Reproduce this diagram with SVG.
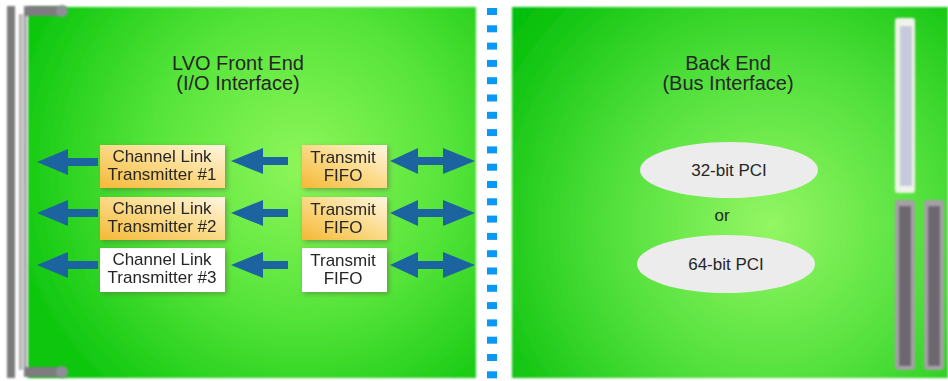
<svg xmlns="http://www.w3.org/2000/svg" width="948" height="381" viewBox="0 0 948 381">
  <defs>
    <radialGradient id="gLeft" cx="300" cy="165" r="300" gradientUnits="userSpaceOnUse">
      <stop offset="0" stop-color="#8ef65a"/>
      <stop offset="0.5" stop-color="#56e43a"/>
      <stop offset="1" stop-color="#0cc60e"/>
    </radialGradient>
    <radialGradient id="gRight" cx="770" cy="225" r="320" gradientUnits="userSpaceOnUse">
      <stop offset="0" stop-color="#94f664"/>
      <stop offset="0.5" stop-color="#52e03c"/>
      <stop offset="1" stop-color="#06c00a"/>
    </radialGradient>
    <linearGradient id="gBox" x1="0" y1="1" x2="1" y2="0">
      <stop offset="0" stop-color="#f4b936"/>
      <stop offset="0.55" stop-color="#fbdc8e"/>
      <stop offset="1" stop-color="#fff6e2"/>
    </linearGradient>
    <filter id="soft" x="-20%" y="-30%" width="140%" height="160%">
      <feGaussianBlur in="SourceAlpha" stdDeviation="2.5"/>
      <feOffset dx="2" dy="2" result="b"/>
      <feFlood flood-color="#5a6a40" flood-opacity="0.55"/>
      <feComposite in2="b" operator="in" result="s"/>
      <feMerge><feMergeNode in="s"/><feMergeNode in="SourceGraphic"/></feMerge>
    </filter>
    <filter id="edge" x="-5%" y="-5%" width="110%" height="110%">
      <feGaussianBlur stdDeviation="0.8"/>
    </filter>
    <style>
      .t { font-family: "Liberation Sans", Arial, sans-serif; fill: #262626; text-anchor: middle; }
      .title { font-size: 20px; }
      .lbl { font-size: 17px; }
      .pci { font-size: 17px; }
      .arr { fill: #1c64a0; }
      .dash { fill: #0a98f6; }
    </style>
  </defs>

  <rect width="948" height="381" fill="#ffffff"/>

  <!-- board panels -->
  <g id="front-end-panel">
    <rect x="28" y="7" width="448" height="371" fill="url(#gLeft)" filter="url(#edge)"/>
  </g>
  <g id="back-end-panel">
    <rect x="512" y="7" width="436" height="371" fill="url(#gRight)" filter="url(#edge)"/>
  </g>

  <!-- front bracket -->
  <g id="bracket" filter="url(#edge)">
    <rect x="7" y="6" width="8" height="372" fill="#7c7a7c"/>
    <rect x="19" y="14" width="8" height="356" fill="#a8a6a8"/>
    <rect x="21" y="14" width="3" height="356" fill="#e8e8e8" opacity="0.6"/>
    <rect x="24" y="6" width="38" height="10" fill="#7e7c80"/>
    <circle cx="62" cy="11" r="6" fill="#8e8e98"/>
    <rect x="24" y="367" width="38" height="10" fill="#7e7c80"/>
    <circle cx="62" cy="372" r="6" fill="#8e8e98"/>
  </g>

  <!-- bus connector slots -->
  <g id="slots" filter="url(#edge)">
    <rect x="895" y="18" width="20" height="175" rx="3" fill="#f0f4e8"/>
    <rect x="900" y="26" width="12" height="160" fill="#c6cadc"/>
    <rect x="895" y="200" width="20" height="170" rx="3" fill="#a4a0a6"/>
    <rect x="899" y="206" width="12" height="160" fill="#6c686e"/>
    <rect x="924" y="200" width="20" height="170" rx="3" fill="#a4a0a6"/>
    <rect x="928" y="206" width="12" height="160" fill="#6c686e"/>
  </g>

  <!-- divider -->
  <g id="divider">
    <rect class="dash" x="487" y="8" width="10" height="7"/>
    <rect class="dash" x="487" y="25.3" width="10" height="7"/>
    <rect class="dash" x="487" y="42.6" width="10" height="7"/>
    <rect class="dash" x="487" y="59.9" width="10" height="7"/>
    <rect class="dash" x="487" y="77.2" width="10" height="7"/>
    <rect class="dash" x="487" y="94.5" width="10" height="7"/>
    <rect class="dash" x="487" y="111.8" width="10" height="7"/>
    <rect class="dash" x="487" y="129.1" width="10" height="7"/>
    <rect class="dash" x="487" y="146.4" width="10" height="7"/>
    <rect class="dash" x="487" y="163.7" width="10" height="7"/>
    <rect class="dash" x="487" y="181" width="10" height="7"/>
    <rect class="dash" x="487" y="198.3" width="10" height="7"/>
    <rect class="dash" x="487" y="215.6" width="10" height="7"/>
    <rect class="dash" x="487" y="232.9" width="10" height="7"/>
    <rect class="dash" x="487" y="250.2" width="10" height="7"/>
    <rect class="dash" x="487" y="267.5" width="10" height="7"/>
    <rect class="dash" x="487" y="284.8" width="10" height="7"/>
    <rect class="dash" x="487" y="302.1" width="10" height="7"/>
    <rect class="dash" x="487" y="319.4" width="10" height="7"/>
    <rect class="dash" x="487" y="336.7" width="10" height="7"/>
    <rect class="dash" x="487" y="354" width="10" height="7"/>
    <rect class="dash" x="487" y="371.3" width="10" height="7"/>
  </g>

  <!-- titles -->
  <g id="front-title">
    <text class="t title" x="238" y="70">LVO Front End</text>
    <text class="t title" x="238" y="90">(I/O Interface)</text>
  </g>
  <g id="back-title">
    <text class="t title" x="728" y="70">Back End</text>
    <text class="t title" x="728" y="90">(Bus Interface)</text>
  </g>

  <!-- connectors -->
  <g id="connectors">
    <!-- output arrows -->
    <path class="arr" d="M37,162 L68,149 L68,158 L98,158 L98,166 L68,166 L68,175 Z"/>
    <path class="arr" d="M37,213 L68,200 L68,209 L98,209 L98,217 L68,217 L68,226 Z"/>
    <path class="arr" d="M37,265 L68,252 L68,261 L98,261 L98,269 L68,269 L68,278 Z"/>
    <!-- FIFO to transmitter arrows -->
    <path class="arr" d="M231,161 L263,148 L263,157 L288,157 L288,165 L263,165 L263,174 Z"/>
    <path class="arr" d="M231,213 L263,200 L263,209 L288,209 L288,217 L263,217 L263,226 Z"/>
    <path class="arr" d="M231,265 L263,252 L263,261 L288,261 L288,269 L263,269 L263,278 Z"/>
    <!-- bidirectional bus arrows -->
    <path class="arr" d="M390,161 L418,148 L418,157 L443,157 L443,148 L475,161 L443,174 L443,165 L418,165 L418,174 Z"/>
    <path class="arr" d="M390,213 L418,200 L418,209 L443,209 L443,200 L475,213 L443,226 L443,217 L418,217 L418,226 Z"/>
    <path class="arr" d="M390,265 L418,252 L418,261 L443,261 L443,252 L475,265 L443,278 L443,269 L418,269 L418,278 Z"/>
  </g>

  <!-- transmitter boxes -->
  <g id="tx1" filter="url(#soft)">
    <rect x="100" y="145" width="125" height="43" fill="url(#gBox)"/>
    <text class="t lbl" x="162" y="162">Channel Link</text>
    <text class="t lbl" x="162" y="180">Transmitter #1</text>
  </g>
  <g id="tx2" filter="url(#soft)">
    <rect x="100" y="197" width="125" height="43" fill="url(#gBox)"/>
    <text class="t lbl" x="162" y="214">Channel Link</text>
    <text class="t lbl" x="162" y="232">Transmitter #2</text>
  </g>
  <g id="tx3" filter="url(#soft)">
    <rect x="100" y="248" width="125" height="44" fill="#ffffff"/>
    <text class="t lbl" x="162" y="265">Channel Link</text>
    <text class="t lbl" x="162" y="283">Transmitter #3</text>
  </g>

  <!-- FIFO boxes -->
  <g id="fifo1" filter="url(#soft)">
    <rect x="302" y="145" width="85" height="43" fill="url(#gBox)"/>
    <text class="t lbl" x="343" y="163">Transmit</text>
    <text class="t lbl" x="343" y="181">FIFO</text>
  </g>
  <g id="fifo2" filter="url(#soft)">
    <rect x="302" y="197" width="85" height="43" fill="url(#gBox)"/>
    <text class="t lbl" x="343" y="215">Transmit</text>
    <text class="t lbl" x="343" y="233">FIFO</text>
  </g>
  <g id="fifo3" filter="url(#soft)">
    <rect x="302" y="248" width="85" height="44" fill="#ffffff"/>
    <text class="t lbl" x="343" y="266">Transmit</text>
    <text class="t lbl" x="343" y="284">FIFO</text>
  </g>

  <!-- bus options -->
  <g id="pci32">
    <ellipse cx="729" cy="170" rx="89" ry="28" fill="#ececec"/>
    <text class="t pci" x="729" y="176">32-bit PCI</text>
  </g>
  <g id="or-label">
    <text class="t pci" x="722" y="221">or</text>
  </g>
  <g id="pci64">
    <ellipse cx="726" cy="264" rx="89" ry="29" fill="#ececec"/>
    <text class="t pci" x="726" y="270">64-bit PCI</text>
  </g>
</svg>
